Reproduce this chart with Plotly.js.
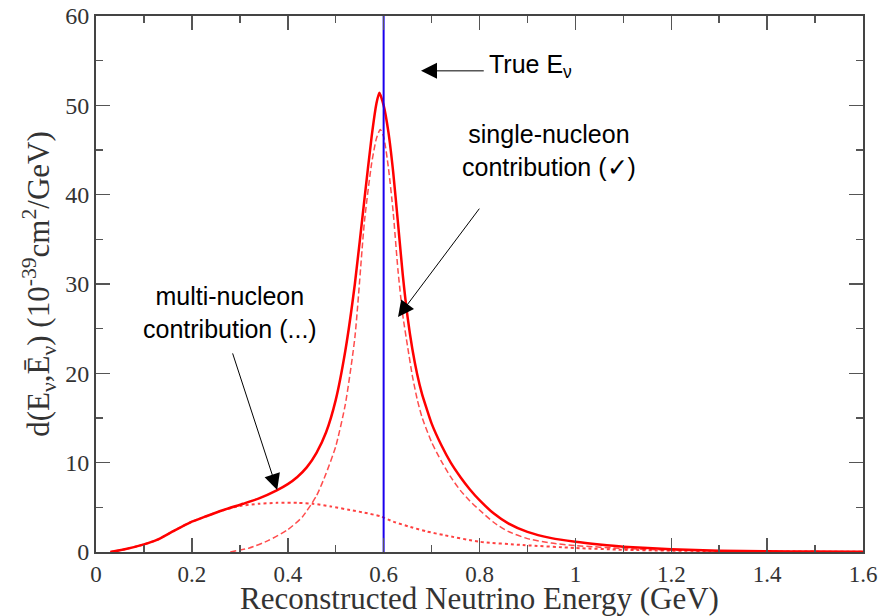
<!DOCTYPE html>
<html>
<head>
<meta charset="utf-8">
<script src="https://cdn.plot.ly/plotly-3.0.1.min.js"></script>
<style>html,body{margin:0;padding:0;background:#fff;}#chart{width:881px;height:616px;}</style>
</head>
<body>
<div id="chart"></div>
<script>
// Total (solid)
const totalX = [0.03,0.06,0.10,0.127,0.16,0.196,0.23,0.266,0.307,0.34,0.377,0.40,0.42,0.44,0.46,0.48,0.50,0.52,0.54,0.56,0.575,0.585,0.591,0.60,0.61,0.62,0.63,0.64,0.65,0.66,0.67,0.68,0.69,0.70,0.72,0.74,0.76,0.78,0.80,0.83,0.86,0.90,0.95,1.00,1.05,1.10,1.20,1.30,1.40,1.50,1.60];
const totalY = [0,0.3,0.85,1.35,2.3,3.3,4.0,4.7,5.4,6.0,6.9,7.6,8.4,9.5,11.1,13.4,17.0,22.5,30.0,39.5,46.5,50.2,51.4,50.0,47.0,42.5,36.8,31.0,26.3,22.7,19.9,17.7,16.0,14.4,12.0,10.0,8.4,7.0,5.8,4.3,3.2,2.25,1.55,1.15,0.85,0.6,0.3,0.15,0.08,0.05,0.03];
// Single-nucleon (dashed)
const singleX = [0.28,0.32,0.36,0.40,0.43,0.46,0.48,0.50,0.52,0.54,0.56,0.575,0.585,0.593,0.60,0.61,0.62,0.63,0.64,0.65,0.66,0.67,0.68,0.70,0.72,0.74,0.76,0.78,0.80,0.83,0.86,0.90,0.95,1.00,1.10,1.20,1.40,1.60];
const singleY = [0,0.45,1.3,2.5,3.9,6.3,8.8,11.8,16.5,24.0,37.0,43.5,46.3,47.3,46.5,43.0,38.0,31.5,26.5,23.0,19.7,17.1,15.1,12.3,10.2,8.4,6.9,5.7,4.7,3.3,2.3,1.5,1.0,0.72,0.4,0.2,0.06,0.02];
// Multi-nucleon (dotted)
const multiX = [0.03,0.06,0.10,0.127,0.16,0.196,0.23,0.266,0.30,0.34,0.377,0.42,0.453,0.49,0.53,0.56,0.593,0.62,0.656,0.69,0.725,0.80,0.89,1.00,1.10,1.20,1.40,1.60];
const multiY = [0,0.3,0.85,1.35,2.3,3.3,4.0,4.7,5.15,5.4,5.5,5.5,5.4,5.1,4.7,4.4,4.0,3.4,2.8,2.3,1.9,1.15,0.78,0.45,0.25,0.15,0.06,0.03];
// True neutrino energy
const trueE = 0.6;
const yRange = [0, 60];
const xRange = [0, 1.6];

const traces = [
  {x: multiX, y: multiY, mode: 'lines', line: {color: 'rgba(255,0,0,0.75)', width: 2, dash: 'dot', shape: 'spline', smoothing: 0.6}, hoverinfo: 'skip'},
  {x: singleX, y: singleY, mode: 'lines', line: {color: 'rgba(255,0,0,0.7)', width: 1.5, dash: '6px,3px', shape: 'spline', smoothing: 0.6}, hoverinfo: 'skip'},
  {x: totalX, y: totalY, mode: 'lines', line: {color: '#ff0000', width: 2.5, shape: 'spline', smoothing: 0.6}, hoverinfo: 'skip'},
  {x: [trueE, trueE], y: yRange, mode: 'lines', line: {color: '#1a00ee', width: 2}, hoverinfo: 'skip'}
];

const annFont = {family: 'Liberation Sans, Arial, sans-serif', size: 25, color: '#000'};
const arrow = (tx, ty, hx, hy) => ({
  x: hx, y: hy, ax: tx, ay: ty, xref: 'x', yref: 'y', axref: 'x', ayref: 'y',
  text: '', showarrow: true, arrowhead: 2, arrowsize: 3.2, arrowwidth: 1, arrowcolor: '#000', standoff: 0
});

const layout = {
  width: 881, height: 616,
  margin: {l: 96, r: 18, t: 16, b: 64},
  paper_bgcolor: '#fff', plot_bgcolor: '#fff',
  showlegend: false,
  font: {family: 'Liberation Serif, Times New Roman, serif', color: '#333'},
  xaxis: {
    range: xRange, dtick: 0.2, tick0: 0, ticks: 'inside', ticklen: 14, tickwidth: 1.5, tickcolor: '#555',
    showline: true, linecolor: '#444', linewidth: 2, mirror: 'ticks', showgrid: false, zeroline: false,
    tickfont: {family: 'Liberation Serif, serif', size: 23, color: '#333'},
    minor: {dtick: 0.1, ticks: 'inside', ticklen: 7, tickwidth: 1.5, tickcolor: '#555', showgrid: false},
    title: {text: 'Reconstructed Neutrino Energy (GeV)', font: {family: 'Liberation Serif, serif', size: 31, color: '#333'}, standoff: 0}
  },
  yaxis: {
    range: yRange, dtick: 10, tick0: 0, ticks: 'inside', ticklen: 14, tickwidth: 1.5, tickcolor: '#555',
    showline: true, linecolor: '#444', linewidth: 2, mirror: 'ticks', showgrid: false, zeroline: false,
    tickfont: {family: 'Liberation Serif, serif', size: 24, color: '#333'},
    minor: {dtick: 5, ticks: 'inside', ticklen: 7, tickwidth: 1.5, tickcolor: '#555', showgrid: false},
    title: {text: 'd(E<sub>ν</sub>,Ē<sub>ν</sub>) (10<sup>-39</sup>cm<sup>2</sup>/GeV)', font: {family: 'Liberation Serif, serif', size: 31, color: '#333'}, standoff: 6}
  },
  annotations: [
    arrow(0.812, 53.86, 0.678, 53.86),
    arrow(0.802, 38.6, 0.630, 26.3),
    arrow(0.284, 22.4, 0.378, 6.94),
    {x: 0.816, y: 54.4, xref: 'x', yref: 'y', xanchor: 'left', yanchor: 'middle', showarrow: false,
     text: 'True E<sub>ν</sub>', font: annFont},
    {x: 0.946, y: 45.0, xref: 'x', yref: 'y', xanchor: 'center', yanchor: 'middle', showarrow: false,
     text: 'single-nucleon<br>contribution (✓)', font: annFont},
    {x: 0.280, y: 26.8, xref: 'x', yref: 'y', xanchor: 'center', yanchor: 'middle', showarrow: false,
     text: 'multi-nucleon<br>contribution (...)', font: annFont}
  ]
};

Plotly.newPlot('chart', traces, layout, {displayModeBar: false, staticPlot: true});
</script>
</body>
</html>
